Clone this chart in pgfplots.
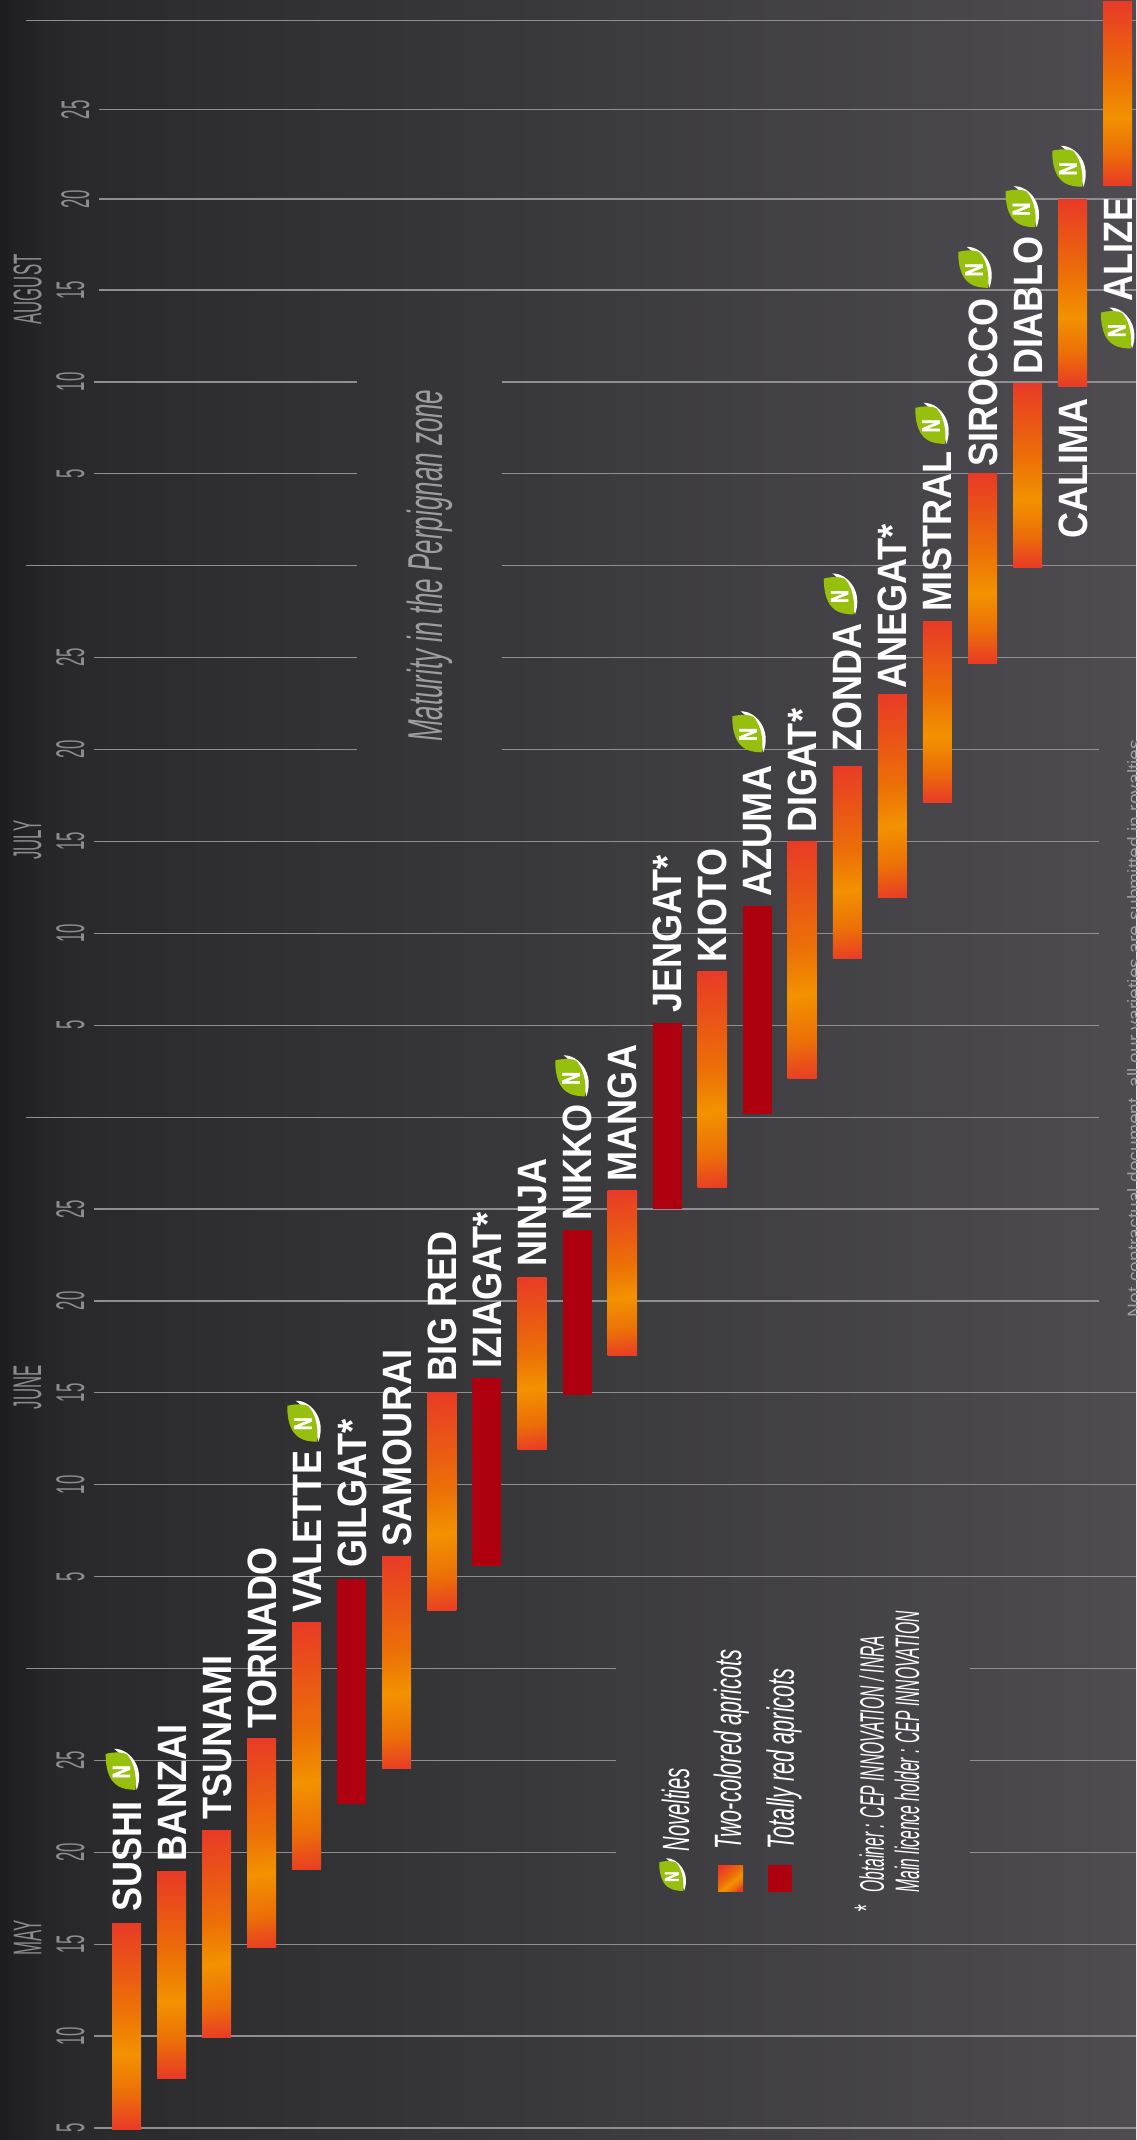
\documentclass[border=0pt]{standalone}
\usepackage{fontspec}
\usepackage{pgfplots}
\pgfplotsset{compat=1.18}
\setmainfont{Liberation Sans}
\newfontfamily\namefont[FakeStretch=0.88]{Liberation Sans}
\newfontfamily\thinfont[FakeStretch=0.42]{Liberation Sans}
\newfontfamily\condfont[FakeStretch=0.53]{Liberation Sans}
\newfontfamily\legfont[FakeStretch=0.57]{Liberation Sans}
\newfontfamily\notefont[FakeStretch=0.46]{Liberation Sans}
\newfontfamily\leaffont[FakeStretch=0.72,FakeBold=1.5]{Liberation Sans}

\definecolor{gridc}{HTML}{8F8E90}
\definecolor{thinc}{HTML}{8C8C8E}
\definecolor{apred}{HTML}{E93A27}
\definecolor{apmid}{HTML}{EC6F07}
\definecolor{aporange}{HTML}{F39200}
\definecolor{fullred}{HTML}{AE000E}
\definecolor{leafgreen}{HTML}{97BF0D}
\definecolor{bga}{HTML}{1D1D1F}
\definecolor{bgb}{HTML}{262527}
\definecolor{bgc}{HTML}{2A292B}
\definecolor{bgd}{HTML}{3A393C}
\definecolor{bge}{HTML}{4E4C51}

\pgfdeclareverticalshading{apricot}{100bp}{
  color(0bp)=(apred); color(25bp)=(apred); color(34bp)=(apmid); color(43.5bp)=(aporange);
  color(55bp)=(apmid); color(75bp)=(apred); color(100bp)=(apred)}
\pgfdeclareverticalshading{apricotdiag}{100bp}{
  color(0bp)=(apred); color(22bp)=(apred); color(31bp)=(apmid); color(42bp)=(aporange);
  color(53bp)=(apmid); color(78bp)=(apred); color(100bp)=(apred)}
\pgfdeclarehorizontalshading{bgfade}{100bp}{
  color(0bp)=(bga); color(25bp)=(bga); color(27bp)=(bgb);
  color(29bp)=(bgc); color(50bp)=(bgd); color(75bp)=(bge); color(100bp)=(bge)}

% the novelty leaf, coordinates in 1/3 px of the reference
\newsavebox{\leafbox}
\sbox{\leafbox}{\begin{tikzpicture}[x=0.1667pt,y=0.1667pt]
  \fill[white] (26,124) .. controls (70,126) and (120,70) .. (94,1)
     .. controls (84,45) and (70,92) .. (26,124) -- cycle;
  \fill[leafgreen] (1,109) .. controls (30,116) and (52,114) .. (64,108)
     .. controls (80,90) and (96,55) .. (90,1)
     .. controls (60,2) and (36,6) .. (18,32)
     .. controls (6,50) and (0,80) .. (1,109) -- cycle;
  \node[rotate=90,text=white,inner sep=0pt,font=\leaffont\bfseries\fontsize{12.5pt}{12.5pt}\selectfont] at (48,55) {N};
\end{tikzpicture}}

% left px, right px, first day, last day
\newcommand{\straight}[4]{\addplot[draw=none,shade,shading=apricot]
  coordinates {(#1,#3)(#2,#3)(#2,#4)(#1,#4)} -- cycle;}
\newcommand{\diag}[5][7]{\addplot[draw=none,shade,shading=apricotdiag,shading angle=#1]
  coordinates {(#2,#4)(#3,#4)(#3,#5)(#2,#5)} -- cycle;}
\newcommand{\allred}[4]{\addplot[draw=none,fill=fullred]
  coordinates {(#1,#3)(#2,#3)(#2,#4)(#1,#4)} -- cycle;}
\newcommand{\varname}[3]{\node[rotate=90,anchor=base west,inner sep=0pt,text=white,
  font=\namefont\bfseries\fontsize{20.5pt}{20.5pt}\selectfont] at (axis cs:#1,#2) {#3};}
\newcommand{\varnamebelow}[3]{\node[rotate=90,anchor=base east,inner sep=0pt,text=white,
  font=\namefont\bfseries\fontsize{20.5pt}{20.5pt}\selectfont] at (axis cs:#1,#2) {#3};}
\newcommand{\leaf}[2]{\node[inner sep=0pt] at (axis cs:#1,#2) {\usebox{\leafbox}};}
\newcommand{\cond}[6][\condfont]{\node[rotate=90,anchor=base west,inner sep=0pt,text=#5,
  font=#1\itshape\fontsize{#4}{#4}\selectfont] at (axis cs:#2,#3) {#6};}
\newcommand{\monthlabel}[2]{\node[text=thinc,inner sep=0pt,rotate=90,
  font=\thinfont\fontsize{20pt}{20pt}\selectfont] at (axis cs:27.5,#1) {#2};}

\begin{document}
\begin{tikzpicture}
\path[use as bounding box,clip] (0,0) rectangle (568pt,1070pt);
\begin{axis}[
  scale only axis,
  width=568pt,height=1070pt,
  xmin=0,xmax=1136,
  ymin=4.347,ymax=120.78,
  axis line style={draw=none},
  major tick style={draw=none},
  xtick=\empty,
  ytick={5,10,15,20,25,35,40,45,50,55,65,70,75,80,85,95,100,105,109.95,114.8},
  yticklabels={5,10,15,20,25,5,10,15,20,25,5,10,15,20,25,5,10,15,\raisebox{-2.5pt}{20},\raisebox{-2.5pt}{25}},
  yticklabel style={xshift=42pt,rotate=90,anchor=base,text=thinc,
    font=\thinfont\fontsize{20pt}{20pt}\selectfont,inner sep=0pt,
    /pgf/number format/assume math mode=true},
  axis background/.style={shade,shading=bgfade},
  unbounded coords=jump,
]
% grid, broken where the titles and the notes sit
\addplot[gridc,line width=0.6pt,forget plot] coordinates {
 (94,5)(1136,5)(0,nan) (94,10)(1136,10)(0,nan) (94,15)(1136,15)(0,nan)
 (94,20)(616,20)(0,nan) (970,20)(1136,20)(0,nan)
 (94,25)(616,25)(0,nan) (970,25)(1136,25)(0,nan)
 (26,30)(616,30)(0,nan) (970,30)(1136,30)(0,nan)
 (94,35)(1136,35)(0,nan) (94,40)(1136,40)(0,nan) (94,45)(1136,45)(0,nan)
 (94,50)(1099,50)(0,nan) (94,55)(1099,55)(0,nan) (26,60)(1099,60)(0,nan)
 (94,65)(1099,65)(0,nan) (94,70)(1099,70)(0,nan) (94,75)(1099,75)(0,nan)
 (94,80)(357,80)(0,nan) (502,80)(1099,80)(0,nan)
 (94,85)(357,85)(0,nan) (502,85)(1136,85)(0,nan)
 (26,90)(357,90)(0,nan) (502,90)(1136,90)(0,nan)
 (94,95)(357,95)(0,nan) (502,95)(1136,95)(0,nan)
 (94,100)(357,100)(0,nan) (502,100)(1136,100)(0,nan)
 (99,105)(1136,105)(0,nan) (99,109.95)(1136,109.95)(0,nan)
 (99,114.8)(1136,114.8)(0,nan) (26,119.67)(1136,119.67)
};
% harvest windows
\straight{112}{141}{4.9}{16.15}
\straight{157}{186}{7.72}{18.98}
\diag{202}{231}{9.95}{21.21}
\diag{247}{276}{14.8}{26.18}
\diag{292}{321}{19.04}{32.53}
\allred{337}{366}{22.64}{34.87}
\diag{382}{411}{24.55}{36.12}
\diag{427.4}{456.4}{33.14}{45.03}
\allred{472.4}{501.4}{35.59}{45.82}
\diag{517.5}{546.5}{41.93}{51.3}
\allred{562.5}{591.5}{44.9}{53.86}
\diag{607.5}{637}{47.02}{55.98}
\allred{652.6}{681.6}{55}{65.12}
\diag{697.6}{727}{56.16}{67.9}
\allred{742.7}{771.7}{60.19}{71.5}
\diag{787.7}{816.7}{62.09}{75}
\diag{832.8}{861.8}{68.62}{79.1}
\diag{877.9}{906.9}{71.94}{82.97}
\straight{922.9}{951.9}{77.1}{86.94}
\straight{968}{997}{84.67}{95.01}
\straight{1013}{1042}{89.89}{99.92}
\straight{1058}{1087}{99.74}{109.95}
\straight{1103}{1132}{110.7}{120.7}
% legend swatches
\diag[40]{718}{743}{17.85}{19.3}
\allred{767.5}{792}{17.85}{19.3}
% variety names
\varname{141}{16.75}{SUSHI}
\varname{186}{19.5}{BANZAI}
\varname{231}{21.75}{TSUNAMI}
\varname{276}{26.7}{TORNADO}
\varname{321}{33.02}{VALETTE}
\varname{366}{35.47}{GILGAT*}
\varname{411}{36.63}{SAMOURAI}
\varname{456.4}{45.59}{BIG RED}
\varname{501.4}{46.3}{IZIAGAT*}
\varname{546.5}{51.86}{NINJA}
\varname{591.5}{54.35}{NIKKO}
\varname{636.5}{56.49}{MANGA}
\varname{681.6}{65.65}{JENGAT*}
\varname{726.6}{68.4}{KIOTO}
\varname{771.7}{72}{AZUMA}
\varname{816.7}{75.46}{DIGAT*}
\varname{861.8}{79.88}{ZONDA}
\varname{906.9}{83.31}{ANEGAT*}
\varname{951.9}{87.48}{MISTRAL}
\varname{997}{95.38}{SIROCCO}
\varname{1042}{100.36}{DIABLO}
\varnamebelow{1087}{99.11}{CALIMA}
\varnamebelow{1132}{110.08}{ALIZE}
% novelty leaves
\leaf{125.4}{24.53}
\leaf{307}{43.47}
\leaf{575}{62.26}
\leaf{752}{80.98}
\leaf{843.6}{88.48}
\leaf{935}{97.76}
\leaf{978}{106.25}
\leaf{1025.3}{109.55}
\leaf{1072}{111.75}
\leaf{1120.7}{102.95}
\node[scale=0.8,inner sep=0pt] at (axis cs:675,18.8) {\usebox{\leafbox}};
% month names
\monthlabel{15.35}{MAY}
\monthlabel{45.3}{JUNE}
\monthlabel{75.08}{JULY}
\monthlabel{105.03}{AUGUST}
% notes
\cond{442}{80.4}{24.5pt}{thinc!85!white}{Maturity in the Perpignan zone}
\cond{689}{20.03}{19pt}{white}{Novelties}
\cond[\legfont]{741}{20.14}{19pt}{white}{Two-colored apricots}
\cond[\legfont]{793.8}{20.14}{19pt}{white}{Totally red apricots}
\cond[\notefont]{883.8}{17.79}{17pt}{white}{Obtainer : CEP INNOVATION / INRA}
\cond[\notefont]{919}{17.79}{17pt}{white}{Main licence holder : CEP INNOVATION}
\cond{878}{16.7}{17pt}{white}{*}
\node[rotate=90,anchor=base west,inner sep=0pt,text=thinc!85!white,font=\fontsize{9.6pt}{9.6pt}\selectfont] at (axis cs:1141,49.1) {Not contractual document, all our varieties are submitted in royalties};
\end{axis}
\end{tikzpicture}
\end{document}
